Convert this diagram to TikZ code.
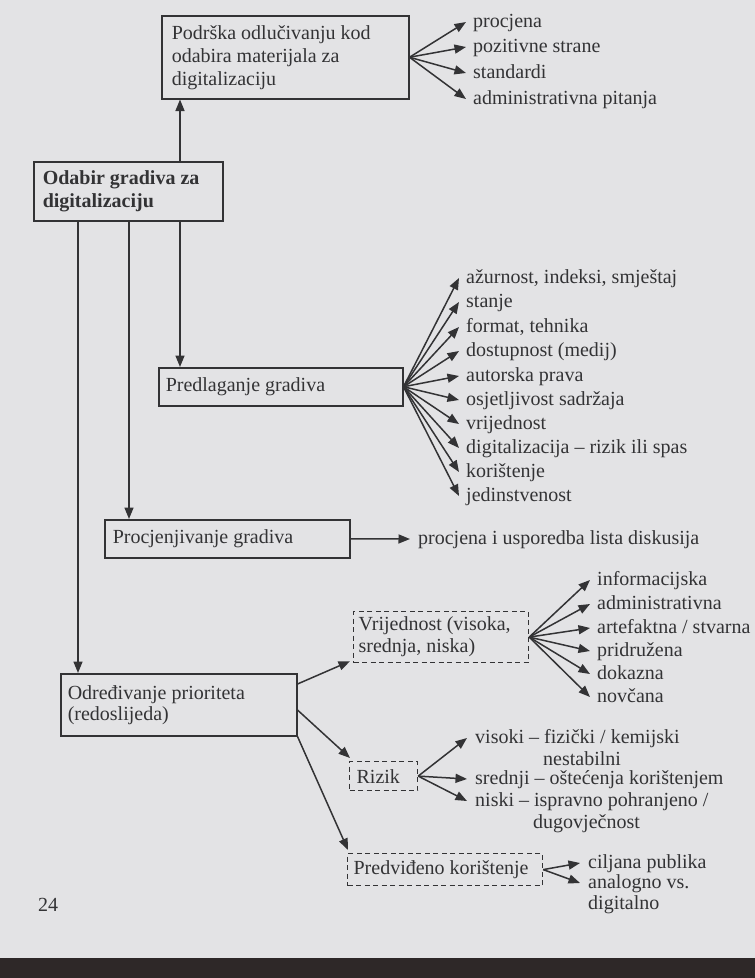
\documentclass[tikz,border=0pt]{standalone}
\usepackage{fontspec}
\setmainfont{Liberation Serif}
\usetikzlibrary{arrows.meta}
\definecolor{ink}{HTML}{333335}
\definecolor{paper}{HTML}{E3E3E5}
\definecolor{edge}{HTML}{2E2828}
\begin{document}
\begin{tikzpicture}[x=1pt,y=-1pt,
  every node/.style={font=\fontsize{20}{23}\selectfont, text=ink},
  box/.style={draw=ink, line width=1.5pt, anchor=north west, align=flush left, inner ysep=0pt},
  dbox/.style={box, dash pattern=on 5pt off 3.5pt, line width=1.2pt},
  lbl/.style={anchor=west, inner sep=0pt, text height=14pt, text depth=4pt},
  arr/.style={draw=ink, line width=1.5pt, -{Triangle[length=11.5pt,width=9pt]}},
  ln/.style={draw=ink, line width=1.5pt}
]
% page
\fill[paper] (0,0) rectangle (755,978);
\fill[edge] (0,958) rectangle (755,978);
\useasboundingbox (0,0) rectangle (755,978);

% boxes
\node[box, inner xsep=10pt, text width=227pt, minimum height=83pt] (b1) at (161,15)
  {Podrška odlučivanju kod\\odabira materijala za\\digitalizaciju};
\node[box, inner xsep=9pt, text width=171pt, minimum height=59pt,
  font=\fontsize{20}{23}\selectfont\bfseries] (b2) at (33,161)
  {Odabir gradiva za\\digitalizaciju};
\node[box, inner xsep=7pt, text width=230pt, minimum height=38pt] (b3) at (158,367)
  {Predlaganje gradiva};
\node[box, inner xsep=8pt, text width=229pt, minimum height=38pt] (b4) at (104,519)
  {Procjenjivanje gradiva};
\node[box, inner xsep=7pt, text width=222pt, minimum height=62pt,
  font=\fontsize{20}{21}\selectfont] (b5) at (60,673)
  {Određivanje prioriteta\\(redoslijeda)};
\node[dbox, inner xsep=5pt, text width=165pt, minimum height=51pt,
  font=\fontsize{20}{22}\selectfont] (v) at (353,611)
  {Vrijednost (visoka,\\srednja, niska)};
\node[dbox, inner xsep=7pt, text width=54pt, minimum height=29pt] (r) at (349,761)
  {Rizik};
\node[dbox, inner xsep=6pt, text width=183pt, minimum height=32pt] (pk) at (347,853)
  {Predviđeno korištenje};

% page number
\node[lbl] (pg) at (38,906) {24};

% labels for box 1
\node[lbl] (a1) at (473,22) {procjena};
\node[lbl] (a2) at (473,47) {pozitivne strane};
\node[lbl] (a3) at (473,73) {standardi};
\node[lbl] (a4) at (473,99) {administrativna pitanja};

% labels for Predlaganje
\node[lbl] (c1) at (466,278) {ažurnost, indeksi, smještaj};
\node[lbl] (c2) at (466,302) {stanje};
\node[lbl] (c3) at (466,327) {format, tehnika};
\node[lbl] (c4) at (466,351) {dostupnost (medij)};
\node[lbl] (c5) at (466,376) {autorska prava};
\node[lbl] (c6) at (466,400) {osjetljivost sadržaja};
\node[lbl] (c7) at (466,424) {vrijednost};
\node[lbl] (c8) at (466,448) {digitalizacija – rizik ili spas};
\node[lbl] (c9) at (466,472) {korištenje};
\node[lbl] (c10) at (466,496) {jedinstvenost};

% Procjenjivanje label
\node[lbl] (d1) at (418,539) {procjena i usporedba lista diskusija};

% Vrijednost labels
\node[lbl] (e1) at (597,580) {informacijska};
\node[lbl] (e2) at (597,604) {administrativna};
\node[lbl] (e3) at (597,628) {artefaktna / stvarna};
\node[lbl] (e4) at (597,651) {pridružena};
\node[lbl] (e5) at (597,674) {dokazna};
\node[lbl] (e6) at (597,697) {novčana};

% Rizik labels
\node[lbl] (f1) at (475,738) {visoki – fizički / kemijski};
\node[lbl] (f1b) at (543,760) {nestabilni};
\node[lbl] (f2) at (475,779) {srednji – oštećenja korištenjem};
\node[lbl] (f3) at (475,801) {niski – ispravno pohranjeno /};
\node[lbl] (f3b) at (533,823) {dugovječnost};

% Predvideno labels
\node[lbl] (g1) at (588,863) {ciljana publika};
\node[lbl] (g2) at (588,883) {analogno vs.};
\node[lbl] (g2b) at (588,904) {digitalno};

% vertical connectors
\draw[arr] (b2.north -| 180,0) -- (b1.south -| 180,0);
\draw[arr] (b2.south -| 180,0) -- (b3.north -| 180,0);
\draw[arr] (b2.south -| 129,0) -- (b4.north -| 129,0);
\draw[arr] (b2.south -| 78,0) -- (b5.north -| 78,0);

% fans
\foreach \t in {a1,a2,a3,a4}
  \draw[arr] (b1.east) -- ([xshift=-7pt]\t.west);
\foreach \t in {c1,c2,c3,c4,c5,c6,c7,c8,c9,c10}
  \draw[arr] (b3.east) -- ([xshift=-7pt]\t.west);
\draw[arr] (b4.east) -- ([xshift=-8pt]d1.west);
\foreach \t in {e1,e2,e3,e4,e5,e6}
  \draw[arr] (v.east) -- ([xshift=-7pt]\t.west);
\foreach \t in {f1,f2,f3}
  \draw[arr] (r.east) -- ([xshift=-8pt]\t.west);
\foreach \t in {g1,g2}
  \draw[arr] (pk.east) -- ([xshift=-8pt]\t.west);

% from Odredivanje
\draw[arr] ([yshift=-11pt]b5.north east) -- ([shift={(-3pt,2pt)}]v.south west);
\draw[arr] ([yshift=-37pt]b5.north east) -- ([shift={(1pt,3pt)}]r.north west);
\draw[arr] (b5.south east) -- ([shift={(1pt,3pt)}]pk.north west);
\end{tikzpicture}
\end{document}
